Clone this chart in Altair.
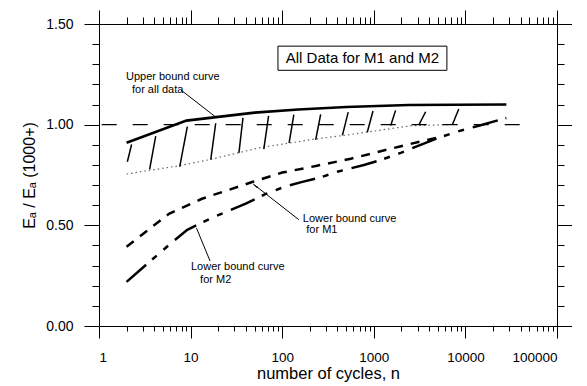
import altair as alt
import pandas as pd

# ---------------- data ----------------
# upper bound curve for all data (solid)
upper_n = [2, 9, 50, 150, 500, 2400, 28000]
upper_v = [0.91, 1.02, 1.06, 1.075, 1.088, 1.098, 1.10]

# lower edge of the all-data band (dotted)
lower_n = [2, 7.5, 16, 33, 56, 230, 535, 1230, 2600, 6600]
lower_v = [0.755, 0.796, 0.826, 0.86, 0.885, 0.929, 0.95, 0.974, 0.995, 1.0]

# lower bound curve for M1 (short dashes)
m1_n = [2, 5.8, 13.3, 47, 100, 240, 560, 1980, 5400]
m1_v = [0.394, 0.557, 0.632, 0.715, 0.762, 0.796, 0.831, 0.893, 0.94]

# lower bound curve for M2 (long-short dashes)
m2_n = [2, 3.4, 6.6, 9.2, 17, 25, 40, 66, 108, 166, 262, 400, 780, 1200,
        1970, 2900, 5400, 8500, 14000, 28000]
m2_v = [0.219, 0.311, 0.424, 0.478, 0.537, 0.569, 0.608, 0.656, 0.693, 0.716,
        0.738, 0.766, 0.80, 0.825, 0.86, 0.891, 0.939, 0.968, 0.995, 1.033]

# hatch strokes between the band edges
hatch_n0 = [2.04, 3.57, 7.61, 16.6, 33.7, 63, 119, 232, 454, 849, 1530, 3110, 7200]
hatch_v0 = [0.816, 0.778, 0.792, 0.826, 0.860, 0.879, 0.910, 0.924, 0.947, 0.962, 0.996, 0.999, 1.0]
hatch_n1 = [2.27, 4.16, 9.21, 18.8, 37.3, 71, 134, 263, 526, 980, 1730, 3680, 8470]
hatch_v1 = [0.902, 0.943, 0.990, 1.007, 1.034, 1.044, 1.050, 1.051, 1.062, 1.068, 1.071, 1.064, 1.078]

# reference line at 1.0
ref_n = [1.07, 40000]
ref_v = 1.0

# annotations
notes_text = ["Upper bound curve", "for all data",
              "Lower bound curve", "for M1",
              "Lower bound curve", "for M2"]
notes_n = [1.97, 2.29, 168, 183, 10.1, 12.7]
notes_v = [1.237, 1.173, 0.533, 0.479, 0.295, 0.23]

callout_n0 = [7.85, 48.3, 11.6]
callout_v0 = [1.172, 0.705, 0.486]
callout_n1 = [18.9, 152, 16.3]
callout_v1 = [1.037, 0.528, 0.323]

arrow_n = [51.9]
arrow_v = [0.693]

box_text = "All Data for M1 and M2"
box_n = [89.9, 6280]
box_v = [1.27, 1.39]
box_text_n = 751
box_text_v = 1.33

# axis ticks
x_major = [1, 10, 100, 1000, 10000, 100000]
x_ticks = [m * d for d in [1, 10, 100, 1000, 10000] for m in range(1, 10)] + [100000]
y_major = [0, 0.5, 1.0, 1.5]
y_ticks = [round(0.1 * i, 1) for i in range(16)]

# ---------------- chart ----------------
FONT = "Liberation Sans, Arial, DejaVu Sans"
xs = alt.Scale(type="log", domain=[1, 100000], nice=False)
ys = alt.Scale(domain=[0, 1.5], nice=False, zero=False)

x_test = "indexof(%s, datum.value) >= 0" % str(x_major)
y_test = "indexof(%s, datum.value) >= 0" % str(y_major)

ax_bottom = alt.Axis(orient="bottom", values=x_ticks, format="d",
                     tickSize={"condition": {"test": x_test, "value": 12}, "value": 5},
                     labelExpr=x_test + " ? datum.label : ''",
                     labelPadding=12, labelFontSize=13.5,
                     title="number of cycles,  n", titleFontSize=16.5, titlePadding=2,
                     grid=False)
ax_top = alt.Axis(orient="top", values=x_ticks,
                  tickSize={"condition": {"test": x_test, "value": 14}, "value": 7},
                  labels=False, title="", grid=False)
ax_left = alt.Axis(orient="left", values=y_ticks, format=".2f",
                   tickSize={"condition": {"test": y_test, "value": 15}, "value": 7},
                   labelExpr=y_test + " ? datum.label : ''",
                   labelPadding=11, labelFontSize=14,
                   title="Eₐ / Eₐ (1000+)", titleFontSize=16, titlePadding=8,
                   grid=False)
ax_right = alt.Axis(orient="right", values=y_ticks,
                    tickSize={"condition": {"test": y_test, "value": 15}, "value": 7},
                    labels=False, title="", grid=False)

df_upper = pd.DataFrame({"n": upper_n, "v": upper_v})
df_lower = pd.DataFrame({"n": lower_n, "v": lower_v})
df_m1 = pd.DataFrame({"n": m1_n, "v": m1_v})
df_m2 = pd.DataFrame({"n": m2_n, "v": m2_v})
df_hatch = pd.DataFrame({"n0": hatch_n0, "v0": hatch_v0, "n1": hatch_n1, "v1": hatch_v1})
df_ref = pd.DataFrame({"n0": [ref_n[0]], "n1": [ref_n[1]], "v": [ref_v]})
df_notes = pd.DataFrame({"n": notes_n, "v": notes_v, "t": notes_text})
df_call = pd.DataFrame({"n0": callout_n0, "v0": callout_v0, "n1": callout_n1, "v1": callout_v1})
df_arrow = pd.DataFrame({"n": arrow_n, "v": arrow_v})
df_box = pd.DataFrame({"n0": [box_n[0]], "n1": [box_n[1]], "v0": [box_v[0]], "v1": [box_v[1]]})
df_boxt = pd.DataFrame({"n": [box_text_n], "v": [box_text_v], "t": [box_text]})

upper = alt.Chart(df_upper).mark_line(color="black", strokeWidth=2.6).encode(
    x=alt.X("n:Q", scale=xs, axis=ax_bottom),
    y=alt.Y("v:Q", scale=ys, axis=ax_left))

m1 = alt.Chart(df_m1).mark_line(color="black", strokeWidth=2.5, strokeDash=[9, 8]).encode(
    x=alt.X("n:Q", scale=xs, axis=ax_top),
    y=alt.Y("v:Q", scale=ys, axis=ax_right))

m2 = alt.Chart(df_m2).mark_line(color="black", strokeWidth=2.5,
                                strokeDash=[26, 8, 6, 9, 6, 9]).encode(
    x=alt.X("n:Q", scale=xs, axis=None),
    y=alt.Y("v:Q", scale=ys, axis=None))

lower = alt.Chart(df_lower).mark_line(color="#666666", strokeWidth=1.2,
                                      strokeDash=[1.5, 3]).encode(
    x=alt.X("n:Q", scale=xs, axis=None),
    y=alt.Y("v:Q", scale=ys, axis=None))

hatch = alt.Chart(df_hatch).mark_rule(color="black", strokeWidth=1.5).encode(
    x=alt.X("n0:Q", scale=xs, axis=None), x2="n1:Q",
    y=alt.Y("v0:Q", scale=ys, axis=None), y2="v1:Q")

ref = alt.Chart(df_ref).mark_rule(color="black", strokeWidth=1.2, strokeDash=[15, 16]).encode(
    x=alt.X("n0:Q", scale=xs, axis=None), x2="n1:Q",
    y=alt.Y("v:Q", scale=ys, axis=None))

callouts = alt.Chart(df_call).mark_rule(color="black", strokeWidth=1).encode(
    x=alt.X("n0:Q", scale=xs, axis=None), x2="n1:Q",
    y=alt.Y("v0:Q", scale=ys, axis=None), y2="v1:Q")

arrow = alt.Chart(df_arrow).mark_point(shape="wedge", filled=True, size=45, angle=307,
                                       color="black", opacity=1).encode(
    x=alt.X("n:Q", scale=xs, axis=None),
    y=alt.Y("v:Q", scale=ys, axis=None))

notes = alt.Chart(df_notes).mark_text(align="left", baseline="middle", font=FONT,
                                      fontSize=11, color="black").encode(
    x=alt.X("n:Q", scale=xs, axis=None),
    y=alt.Y("v:Q", scale=ys, axis=None),
    text="t:N")

box = alt.Chart(df_box).mark_rect(fill="white", stroke="black", strokeWidth=1).encode(
    x=alt.X("n0:Q", scale=xs, axis=None), x2="n1:Q",
    y=alt.Y("v0:Q", scale=ys, axis=None), y2="v1:Q")

boxt = alt.Chart(df_boxt).mark_text(align="center", baseline="middle", font=FONT,
                                    fontSize=15, color="black").encode(
    x=alt.X("n:Q", scale=xs, axis=None),
    y=alt.Y("v:Q", scale=ys, axis=None),
    text="t:N")

chart = alt.layer(upper, m1, m2, lower, hatch, ref, callouts, arrow, notes, box, boxt).resolve_axis(
    x="independent", y="independent"
).properties(
    width=458, height=302,
    autosize=alt.AutoSizeParams(type="none"),
    padding={"left": 91, "top": 16, "right": 15, "bottom": 60},
    background="white",
).configure_view(stroke=None).configure_axis(
    labelFont=FONT, titleFont=FONT, labelColor="black", titleColor="black",
    tickColor="black", domainColor="black", domainWidth=1, tickWidth=1,
    titleFontWeight="normal",
)

chart.save("out.html", embed_options={"renderer": "svg", "actions": False})
